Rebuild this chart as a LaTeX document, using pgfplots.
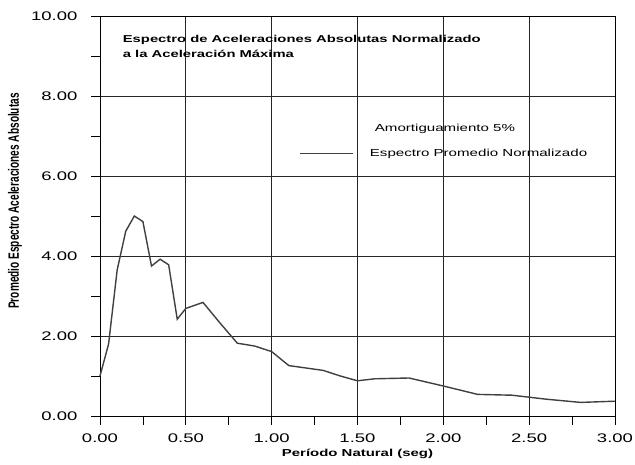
\documentclass[border=0pt]{standalone}
\usepackage{fontspec}
\setmainfont{Liberation Sans}[FakeStretch=1.48]
\newfontfamily\plainfont{Liberation Sans}
\usepackage{pgfplots}
\pgfplotsset{compat=1.18}
\begin{document}
\begin{tikzpicture}
\begin{axis}[
  at={(0pt,0pt)}, anchor=south west,
  scale only axis, width=515pt, height=400pt,
  xmin=0, xmax=3, ymin=0, ymax=10,
  xtick={0,0.5,1,1.5,2,2.5,3}, ytick={0,2,4,6,8,10},
  minor x tick num=1, minor y tick num=1,
  tick align=outside, tick pos=left,
  major tick length=9pt, minor tick length=9pt,
  every tick/.style={black, line width=0.8pt},
  grid=major, major grid style={black!85, line width=0.8pt},
  axis line style={black, line width=0.8pt},
  tick label style={font=\fontsize{12.5}{14}\selectfont},
  yticklabel style={xshift=-10pt},
  xticklabel style={yshift=-5pt},
  /pgf/number format/.cd, fixed, fixed zerofill, precision=2, assume math mode=true,
  /pgfplots/.cd,
  xlabel={\bfseries Período Natural (seg)},
  xlabel style={font=\fontsize{10.1}{12}\selectfont, at={(axis description cs:0.5,0)}, anchor=base, yshift=-40pt},
  ylabel={\scalebox{1}[1.48]{\plainfont\bfseries Promedio Espectro Aceleraciones Absolutas}},
  ylabel style={font=\fontsize{10.1}{12}\selectfont, at={(axis description cs:-0.165,0.5375)}, anchor=center, rotate=0},
  legend style={at={(axis description cs:0.387,0.735)}, anchor=north west, draw=none, fill=white, fill opacity=0, text opacity=1,
    font=\fontsize{10.2}{12}\selectfont, row sep=12pt, inner sep=0pt,
    /tikz/every odd column/.append style={column sep=14pt}},
  legend cell align=left,
  legend image code/.code={\draw[#1] (0pt,0pt) -- (53pt,0pt);},
  clip=false,
]
\addlegendimage{empty legend}
\addlegendentry{\hspace{5pt}Amortiguamiento 5\%}
\addplot[black!75, line width=1.4pt] coordinates {
  (0,1.0) (0.05,1.8) (0.1,3.65) (0.15,4.62) (0.2,5.0) (0.25,4.86)
  (0.3,3.75) (0.35,3.92) (0.4,3.78) (0.45,2.42) (0.5,2.69) (0.6,2.84)
  (0.7,2.32) (0.8,1.82) (0.9,1.75) (1.0,1.61) (1.1,1.26) (1.3,1.14)
  (1.4,1.0) (1.5,0.88) (1.6,0.93) (1.8,0.95) (2.0,0.75) (2.2,0.54)
  (2.4,0.52) (2.5,0.47) (2.6,0.42) (2.8,0.34) (3.0,0.37)
};
\addlegendentry{Espectro Promedio Normalizado}
\node[anchor=base west, inner sep=0pt, font=\fontsize{10}{12}\selectfont\bfseries] at (axis cs:0.132,9.33) {Espectro de Aceleraciones Absolutas Normalizado};
\node[anchor=base west, inner sep=0pt, font=\fontsize{10}{12}\selectfont\bfseries] at (axis cs:0.132,8.96) {a la Aceleración Máxima};
\end{axis}
\pgfresetboundingbox
\path (-100pt,-48pt) rectangle (535pt,416pt);
\end{tikzpicture}
\end{document}
